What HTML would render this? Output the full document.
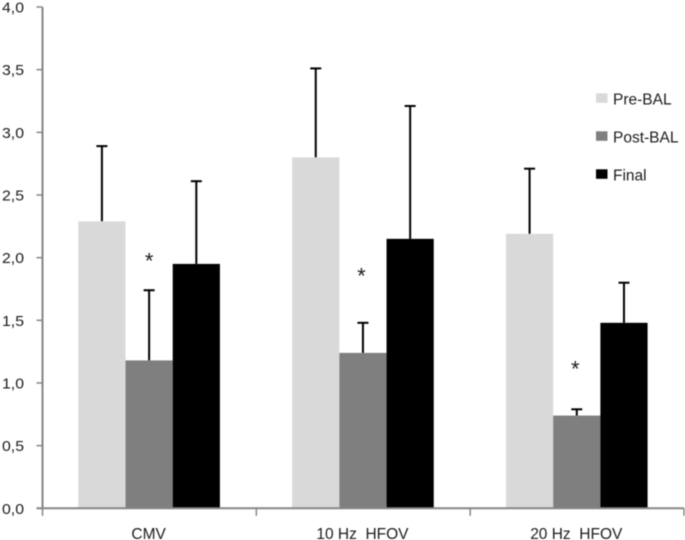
<!DOCTYPE html>
<html>
<head>
<meta charset="utf-8">
<style>
html,body{margin:0;padding:0;background:#fff;width:685px;height:540px;overflow:hidden}
svg{display:block;font-family:"Liberation Sans",sans-serif;filter:blur(.4px)}
text{fill:#1c1c1c;white-space:pre}
</style>
</head>
<body>
<svg id="chart" width="685" height="540" viewBox="0 0 685 540" xmlns="http://www.w3.org/2000/svg"></svg>
<script>
const categories = ["CMV", "10 Hz  HFOV", "20 Hz  HFOV"];
const seriesNames = ["Pre-BAL", "Post-BAL", "Final"];
const preBal = [2.29, 2.80, 2.19];
const postBal = [1.18, 1.24, 0.74];
const finalVals = [1.95, 2.15, 1.48];
const preBalErrorTop = [2.89, 3.51, 2.71];
const postBalErrorTop = [1.74, 1.48, 0.79];
const finalErrorTop = [2.61, 3.21, 1.80];
const starLevels = [2.00, 1.88, 1.14];
const yTicks = [0, 0.5, 1, 1.5, 2, 2.5, 3, 3.5, 4];

const colors = ["#d9d9d9", "#7f7f7f", "#000000"];
const NS = "http://www.w3.org/2000/svg";
const svg = document.getElementById("chart");
const x0 = 42.5, xEnd = 684, y0 = 508.3, yTop = 7;
const yScale = v => y0 - (v / 4) * (y0 - yTop);
const catW = (xEnd - x0) / categories.length;
const catCenter = i => x0 + catW * (i + 0.5) - 0.3;
const barW = 47.2;
const barX = (i, s) => catCenter(i) + (s - 1.5) * barW;

function add(tag, attrs, text) {
  const el = document.createElementNS(NS, tag);
  for (const k in attrs) el.setAttribute(k, attrs[k]);
  if (text !== undefined) el.textContent = text;
  svg.appendChild(el);
  return el;
}

const values = [preBal, postBal, finalVals];
const errs = [preBalErrorTop, postBalErrorTop, finalErrorTop];

values.forEach((vals, s) => {
  vals.forEach((v, i) => {
    const cx = barX(i, s) + barW / 2;
    const stem = add("line", {x1: cx, x2: cx, y1: yScale(v), y2: yScale(errs[s][i]), stroke: "#000", "stroke-width": 2});
    
    
    const cap = add("line", {x1: cx - 5.5, x2: cx + 5.5, y1: yScale(errs[s][i]), y2: yScale(errs[s][i]), stroke: "#000", "stroke-width": 2});
    
    
    const bar = add("rect", {x: barX(i, s), y: yScale(v), width: barW, height: y0 - yScale(v), fill: colors[s]});
    
    
  });
});

const yAxis = add("line", {x1: x0, x2: x0, y1: yTop, y2: y0, stroke: "#868686", "stroke-width": 2});


const xAxis = add("line", {x1: x0 - 6, x2: xEnd, y1: y0, y2: y0, stroke: "#868686", "stroke-width": 2});



yTicks.forEach(t => {
  const tick = add("line", {x1: x0 - 6, x2: x0, y1: yScale(t), y2: yScale(t), stroke: "#868686", "stroke-width": 1.5});
  
  
  const lab = add("text", {x: 2, y: yScale(t) + 5.5, "font-size": 15, textLength: 22, lengthAdjust: "spacingAndGlyphs"}, t.toFixed(1).replace(".", ","));
  
  
});

for (let i = 0; i <= categories.length; i++) {
  const x = x0 + catW * i;
  const tick = add("line", {x1: x, x2: x, y1: y0, y2: y0 + 7.5, stroke: "#868686", "stroke-width": 1.5});
  
  
}

categories.forEach((c, i) => {
  const lab = add("text", {x: catCenter(i) - 0.5, y: 539, "font-size": 15.5, "text-anchor": "middle"}, c);
  
  
  const dx = i === 0 ? 0 : -1.5;
  const star = add("text", {x: barX(i, 1) + barW / 2 + dx, y: yScale(starLevels[i]) + 11, "font-size": 22, "text-anchor": "middle"}, "*");
  
  
});

seriesNames.forEach((n, s) => {
  const y = 93.3 + s * 38;
  const sw = add("rect", {x: 596, y: y, width: 11.5, height: 9.5, fill: colors[s]});
  
  
  const lab = add("text", {x: 613, y: y + 11, "font-size": 15.5}, n);
  
  
});
</script>
</body>
</html>
